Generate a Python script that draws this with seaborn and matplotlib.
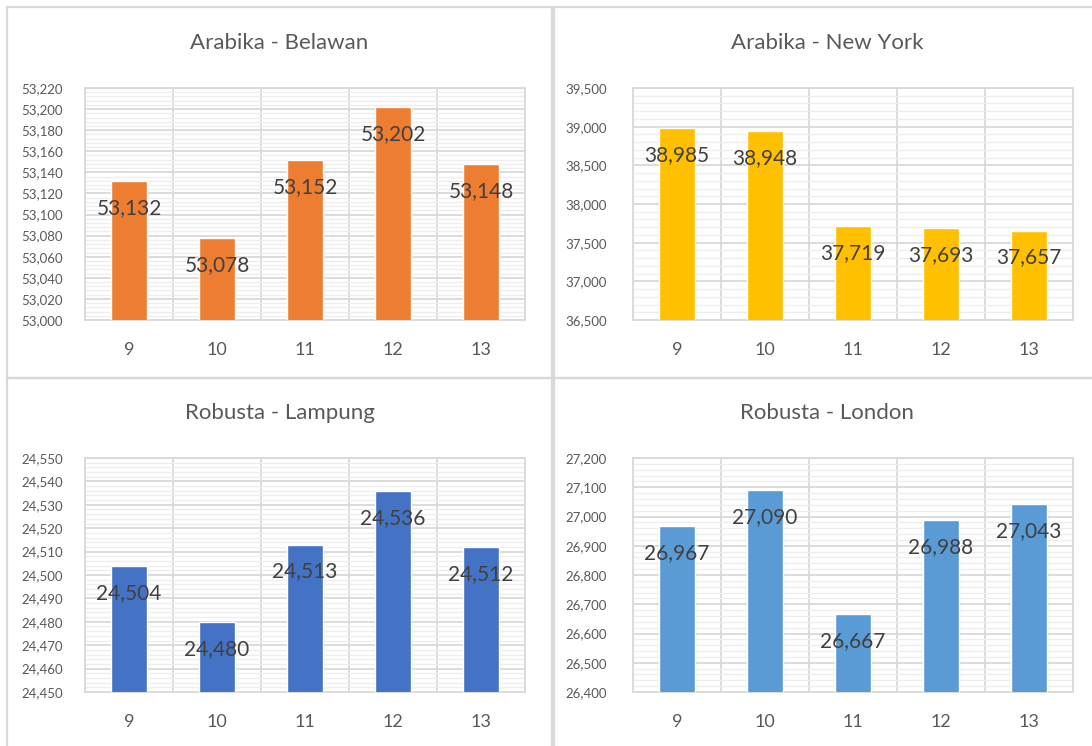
import numpy as np
import matplotlib
matplotlib.use('Agg')
import matplotlib.pyplot as plt
import seaborn as sns
from matplotlib.patches import Rectangle
from matplotlib.ticker import FuncFormatter, MultipleLocator, FixedLocator

# Data
weeks = ['9', '10', '11', '12', '13']

titles = ['Arabika - Belawan', 'Arabika - New York', 'Robusta - Lampung', 'Robusta - London']

belawan = [53132, 53078, 53152, 53202, 53148]
new_york = [38985, 38948, 37719, 37693, 37657]
lampung = [24504, 24480, 24513, 24536, 24512]
london = [26967, 27090, 26667, 26988, 27043]

# axis settings (min, max, major step, minor step)
y_ranges = [(53000, 53220, 20, 4),
            (36500, 39500, 500, 100),
            (24450, 24550, 10, 2),
            (26400, 27200, 100, 20)]

colors = ['#ED7D31', '#FFC000', '#4472C4', '#5B9BD5']

# data labels sit inside the bar, just under its top (pixels)
label_offset = -27

sns.set_theme(style='white')
plt.rcParams['font.family'] = ['Lato', 'DejaVu Sans']

W, H = 1092, 746
fig = plt.figure(figsize=(W / 100, H / 100), dpi=100)

# panel boxes in pixels: (x0, y0, x1, y1)
panels = [(7, 7, 552, 378), (554, 7, 1100, 378), (7, 378, 552, 760), (554, 378, 1100, 760)]
# plot areas: (left, top, right, bottom)
areas = [(85, 88, 525, 320), (633, 88, 1073, 320), (85, 458, 525, 692), (633, 458, 1073, 692)]
title_y = [43, 43, 413, 413]

grey = '#595959'
all_vals = [belawan, new_york, lampung, london]

for i, vals in enumerate(all_vals):
    x0, y0, x1, y1 = panels[i]
    fig.add_artist(Rectangle((x0 / W, 1 - y1 / H), (x1 - x0) / W, (y1 - y0) / H,
                             transform=fig.transFigure, fill=False,
                             ec='#d9d9d9', lw=1.6))
    fig.text((x0 + x1) / 2 / W, 1 - title_y[i] / H, titles[i], ha='center',
             va='center', fontsize=16, color=grey)

    l, t, r, b = areas[i]
    ax = fig.add_axes([l / W, 1 - b / H, (r - l) / W, (b - t) / H])
    sns.barplot(x=weeks, y=vals, color=colors[i], width=0.4, saturation=1,
                ax=ax, zorder=3)
    lo, hi, major, minor = y_ranges[i]
    ax.set_ylim(lo, hi)
    ax.set_xlim(-0.5, 4.5)
    ax.yaxis.set_major_locator(MultipleLocator(major))
    ax.yaxis.set_minor_locator(MultipleLocator(minor))
    ax.xaxis.set_minor_locator(FixedLocator(np.arange(-0.5, 5, 1)))
    ax.yaxis.set_major_formatter(FuncFormatter(lambda v, p: f'{v:,.0f}'))
    ax.grid(which='minor', axis='y', color='#eeeeee', lw=1.0, zorder=0)
    ax.grid(which='major', axis='y', color='#d9d9d9', lw=1.3, zorder=1)
    ax.grid(which='minor', axis='x', color='#d9d9d9', lw=1.3, zorder=1)
    ax.set_axisbelow(True)
    for s in ax.spines.values():
        s.set_color('#d9d9d9')
        s.set_linewidth(1.3)
    ax.tick_params(axis='y', length=0, which='both', labelsize=9.5,
                   labelcolor=grey, pad=16 if i % 2 == 0 else 19)
    ax.tick_params(axis='x', length=0, which='both', labelsize=13,
                   labelcolor=grey, pad=16)
    ax.set_xlabel('')
    ax.set_ylabel('')

    for j, v in enumerate(vals):
        ax.annotate(f'{v:,}', (j, v), xytext=(0, label_offset),
                    textcoords='offset pixels', ha='center', va='center',
                    fontsize=15, color='#404040', zorder=5)

fig.savefig('out.png', dpi=100, facecolor='white')
